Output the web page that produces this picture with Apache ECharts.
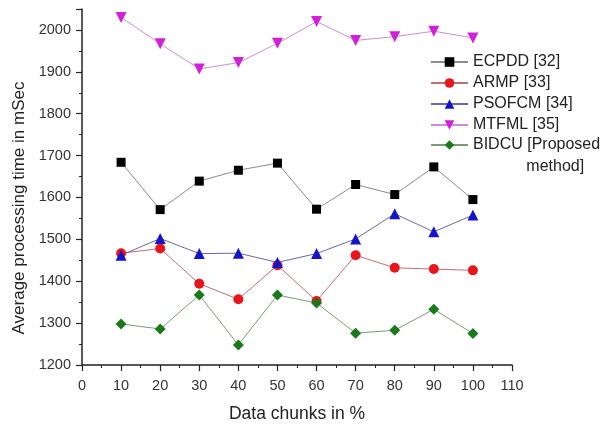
<!DOCTYPE html>
<html>
<head>
<meta charset="utf-8">
<script src="https://cdn.jsdelivr.net/npm/echarts@6/dist/echarts.min.js"></script>
<style>
  html, body { margin: 0; padding: 0; background: #fff; }
  #chart { width: 614px; height: 426px; }
</style>
</head>
<body>
<div id="chart"></div>
<script>
// data
var chunks = [10, 20, 30, 40, 50, 60, 70, 80, 90, 100];
var ecpdd  = [1684, 1571, 1639, 1665, 1682, 1572, 1631, 1607, 1673, 1595];
var armp   = [1467, 1478, 1394, 1357, 1438, 1353, 1462, 1432, 1429, 1426];
var psofcm = [1462, 1502, 1466, 1467, 1445, 1466, 1501, 1561, 1518, 1558];
var mtfml  = [2030, 1967, 1907, 1922, 1968, 2020, 1975, 1984, 1997, 1981];
var bidcu  = [1298, 1286, 1367, 1248, 1367, 1348, 1276, 1283, 1333, 1275];

var FONT = '"Liberation Sans", Arial, sans-serif';
var LAST = 'BIDCU [Proposed method]';

var pairs = function (vals) {
    return chunks.map(function (c, i) { return [c, vals[i]]; });
};

var mkSeries = function (name, vals, symbol, size, color, lineColor, rotate) {
    return {
        name: name,
        type: 'line',
        data: pairs(vals),
        symbol: symbol,
        symbolSize: size,
        symbolRotate: rotate || 0,
        showAllSymbol: true,
        itemStyle: { color: color },
        lineStyle: { color: lineColor, width: 1 },
        emphasis: { disabled: true },
        animation: false
    };
};

var legendBase = {
    orient: 'vertical',
    left: 430,
    padding: 0,
    itemWidth: 37,
    itemHeight: 12,
    itemGap: 3,
    textStyle: { fontFamily: FONT, fontSize: 16, color: '#222', lineHeight: 18 }
};

var chart = echarts.init(document.getElementById('chart'));
chart.setOption({
    backgroundColor: '#fff',
    textStyle: { fontFamily: FONT },
    grid: { left: 82, right: 102, top: 9, bottom: 61, outerBoundsMode: 'none' },
    legend: [
        Object.assign({}, legendBase, {
            top: 53,
            data: ['ECPDD [32]', 'ARMP [33]', 'PSOFCM [34]', 'MTFML [35]']
        }),
        // the last entry wraps; an empty first line keeps the icon on "BIDCU"
        Object.assign({}, legendBase, {
            top: 112,
            data: [LAST],
            textStyle: { fontFamily: FONT, fontSize: 16, color: '#222', lineHeight: 22 },
            formatter: function () {
                return ' \nBIDCU [Proposed\n            method]';
            }
        })
    ],
    xAxis: {
        type: 'value',
        min: 0,
        max: 110,
        interval: 10,
        name: 'Data chunks in %',
        nameLocation: 'middle',
        nameGap: 40,
        nameTextStyle: { fontSize: 17.5, color: '#222' },
        axisLine: { lineStyle: { color: '#222', width: 1.5 } },
        axisTick: { inside: false, length: 6, lineStyle: { color: '#222', width: 1.2 } },
        minorTick: { show: true, splitNumber: 2, length: 3, lineStyle: { color: '#222' } },
        axisLabel: { fontSize: 14.5, color: '#333', margin: 13 },
        splitLine: { show: false }
    },
    yAxis: {
        type: 'value',
        min: 1200,
        max: 2050,
        interval: 100,
        name: 'Average processing time in mSec',
        nameLocation: 'middle',
        nameGap: 52,
        nameTextStyle: { fontSize: 17, color: '#222', padding: [0, 42, 0, 0] },
        axisLine: { show: true, lineStyle: { color: '#222', width: 1.5 } },
        axisTick: { show: true, inside: false, length: 6, lineStyle: { color: '#222', width: 1.2 } },
        minorTick: { show: true, splitNumber: 2, length: 3, lineStyle: { color: '#222' } },
        axisLabel: {
            fontSize: 14.5,
            color: '#333',
            margin: 11,
            showMaxLabel: false,
            formatter: function (v) { return String(v); }
        },
        splitLine: { show: false }
    },
    series: [
        mkSeries('ECPDD [32]', ecpdd, 'rect', 9, '#000000', '#8a8a8a'),
        mkSeries('ARMP [33]', armp, 'circle', 10, '#e8161c', '#c07070'),
        mkSeries('PSOFCM [34]', psofcm, 'triangle', 11, '#1414c8', '#6868a8'),
        mkSeries('MTFML [35]', mtfml, 'triangle', 11, '#d21fd8', '#c890d0', 180),
        mkSeries(LAST, bidcu, 'diamond', 11, '#1a7a1a', '#7a9a7a')
    ]
});
</script>
</body>
</html>
